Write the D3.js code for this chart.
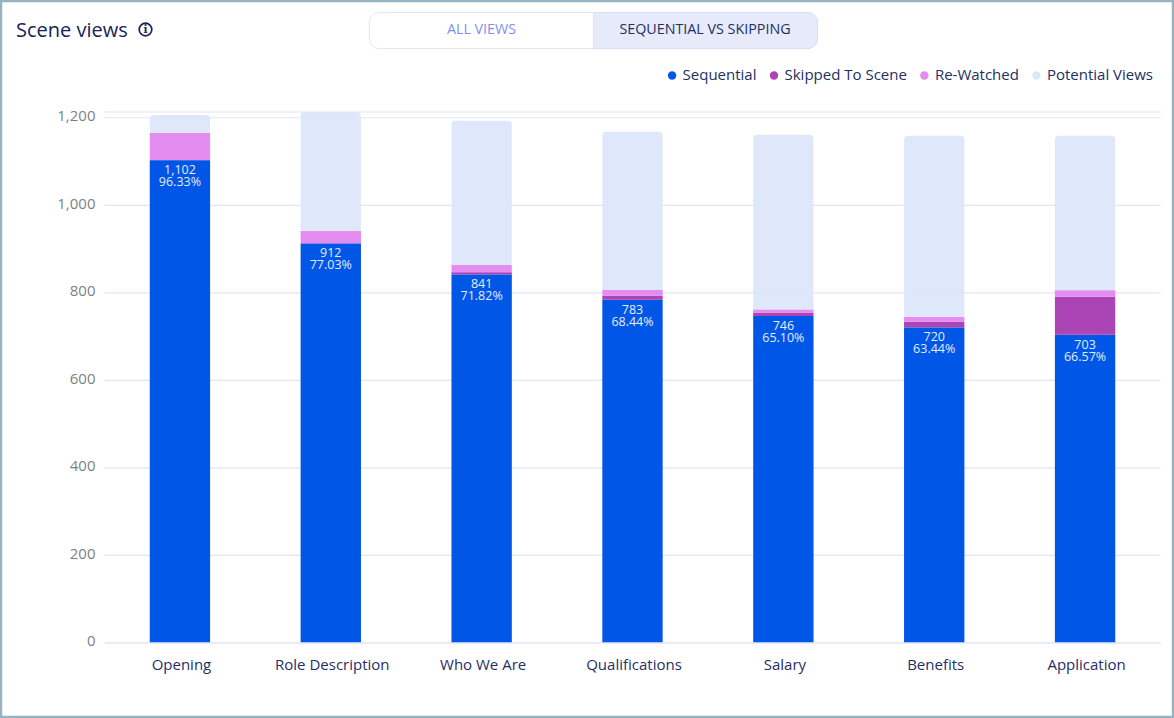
<!DOCTYPE html>
<html>
<head>
<meta charset="utf-8">
<script src="https://cdn.jsdelivr.net/npm/d3@7"></script>
<style>
  html, body { margin: 0; padding: 0; background: #fff; }
  svg { display: block; font-family: "Open Sans", sans-serif; }
  .y-axis text { fill: #7d7f86; font-size: 15px; font-family: "Open Sans", sans-serif; }
  .x-axis text { fill: #1f2f66; font-size: 15px; font-family: "Open Sans", sans-serif; }
</style>
</head>
<body>
<svg id="chart" width="1174" height="718"></svg>
<script>
// chart values
const scenes = ["Opening", "Role Description", "Who We Are", "Qualifications", "Salary", "Benefits", "Application"];
const sequential = [1102, 912, 841, 783, 746, 720, 703];
const skipped = [0, 0, 5, 9, 7, 13, 87];
const rewatched = [62, 28, 17, 14, 8, 11, 15];
const potential = [41, 272, 329, 361, 399, 414, 353];
const percents = ["96.33%", "77.03%", "71.82%", "68.44%", "65.10%", "63.44%", "66.57%"];
const yTicks = [0, 200, 400, 600, 800, 1000, 1200];
const seriesNames = ["Sequential", "Skipped To Scene", "Re-Watched", "Potential Views"];
const seriesValues = [sequential, skipped, rewatched, potential];
const seriesColors = ["#0056e6", "#ab44b5", "#e48cf0", "#dce6fa"];
const toggleLabels = ["ALL VIEWS", "SEQUENTIAL VS SKIPPING"];

const svg = d3.select("#chart");
const margin = {left: 104.5, right: 13.5, top: 112, bottom: 75.5};
const width = 1174, height = 718;

const x = d3.scaleBand()
    .domain(scenes)
    .range([margin.left, width - margin.right])
    .paddingInner(0.6)
    .paddingOuter(0.3);

const y = d3.scaleLinear()
    .domain([0, 1212])
    .range([height - margin.bottom, margin.top]);

// stack the series by hand-named keys
const table = scenes.map((s, i) => {
    const row = {scene: s};
    seriesNames.forEach((n, j) => row[n] = seriesValues[j][i]);
    return row;
});
const stacked = d3.stack().keys(seriesNames)(table);
const color = d3.scaleOrdinal().domain(seriesNames).range(seriesColors);

// outer frame
svg.append("rect")
    .attr("x", 1).attr("y", 1)
    .attr("width", width - 2).attr("height", height - 2)
    .attr("fill", "#fff")
    .attr("stroke", "#97b2c0")
    .attr("stroke-width", 2.5);

// title
svg.append("text")
    .attr("x", 16).attr("y", 36.5)
    .attr("fill", "#15235a")
    .attr("font-size", 20)
    .text("Scene views");

// info icon
const info = svg.append("g").attr("transform", "translate(145.5,29.5)");
info.append("circle").attr("r", 6.3).attr("fill", "none").attr("stroke", "#15235a").attr("stroke-width", 1.7);
info.append("text")
    .attr("text-anchor", "middle").attr("y", 3.8)
    .attr("font-size", 10.5).attr("font-weight", 700)
    .attr("font-family", "'DejaVu Serif', serif")
    .attr("fill", "#15235a")
    .text("i");

// toggle
const toggle = svg.append("g");
toggle.append("path")
    .attr("d", "M593,12.5H808a9.5,9.5 0 0 1 9.5,9.5V39a9.5,9.5 0 0 1 -9.5,9.5H593Z")
    .attr("fill", "#e6eafb").attr("stroke", "#d5dff8");
toggle.append("path")
    .attr("d", "M593,12.5H379a9.5,9.5 0 0 0 -9.5,9.5V39a9.5,9.5 0 0 0 9.5,9.5H593")
    .attr("fill", "#fff").attr("stroke", "#dfe8fb");
toggle.selectAll("text")
    .data(toggleLabels)
    .join("text")
    .attr("x", (d, i) => i === 0 ? 481.5 : 705)
    .attr("y", 33.5)
    .attr("text-anchor", "middle")
    .attr("font-size", 14.3)
    .attr("fill", (d, i) => i === 0 ? "#7f8ff0" : "#22305f")
    .text(d => d);

// legend, laid out from the right edge
const legend = svg.append("g");
let legendX = 1153;
seriesNames.slice().reverse().forEach(name => {
    const label = legend.append("text")
        .attr("y", 80)
        .attr("font-size", 15)
        .attr("fill", "#22305f")
        .text(name);
    const w = label.node().getComputedTextLength();
    label.attr("x", legendX - w);
    legend.append("circle")
        .attr("cx", legendX - w - 10.5)
        .attr("cy", 75.5)
        .attr("r", 4.2)
        .attr("fill", color(name));
    legendX -= w + 28;
});

// grid and y axis
const yAxis = svg.append("g")
    .attr("class", "y-axis")
    .attr("transform", `translate(${margin.left},0)`)
    .call(d3.axisLeft(y).tickValues(yTicks).tickSize(-(width - margin.left - margin.right)).tickPadding(9).tickFormat(d3.format(",")));
yAxis.select(".domain").remove();
yAxis.selectAll("line").attr("stroke", "#dfe5f9").attr("stroke-width", 1.2);
yAxis.selectAll("text").attr("dy", "0.22em");

// top edge of the plot area
svg.append("line")
    .attr("x1", margin.left).attr("x2", width - margin.right)
    .attr("y1", y(1212)).attr("y2", y(1212))
    .attr("stroke", "#dfe5f9").attr("stroke-width", 1.2);

// bars
const layers = svg.selectAll(".layer")
    .data(stacked)
    .join("g")
    .attr("class", "layer")
    .attr("fill", d => color(d.key));

layers.filter(d => d.key !== "Potential Views")
    .selectAll("rect")
    .data(d => d)
    .join("rect")
    .attr("x", d => x(d.data.scene))
    .attr("y", d => y(d[1]))
    .attr("width", x.bandwidth())
    .attr("height", d => y(d[0]) - y(d[1]));

// the potential part has small rounded top corners and lets the grid show through
layers.filter(d => d.key === "Potential Views")
    .selectAll("path")
    .data(d => d)
    .join("path")
    .attr("fill-opacity", 0.92)
    .attr("d", d => {
        const x0 = x(d.data.scene), w = x.bandwidth(), r = 4;
        return `M${x0},${y(d[0])}V${y(d[1]) + r}Q${x0},${y(d[1])} ${x0 + r},${y(d[1])}` +
            `H${x0 + w - r}Q${x0 + w},${y(d[1])} ${x0 + w},${y(d[1]) + r}V${y(d[0])}Z`;
    });

// x axis
const xAxis = svg.append("g")
    .attr("class", "x-axis")
    .attr("transform", `translate(0,${y(0)})`)
    .call(d3.axisBottom(x).tickSize(0).tickPadding(17));
xAxis.select(".domain").attr("stroke", "#dfe3f7").attr("stroke-width", 1.2);
xAxis.selectAll("text").attr("dx", 1.5);

// value labels inside the blue bars
const labels = svg.selectAll(".bar-label")
    .data(scenes)
    .join("text")
    .attr("class", "bar-label")
    .attr("text-anchor", "middle")
    .attr("fill", "#e6ecfb")
    .attr("font-size", 12.5);
labels.append("tspan")
    .attr("x", d => x(d) + x.bandwidth() / 2)
    .attr("y", (d, i) => y(sequential[i]) + 14)
    .text((d, i) => d3.format(",")(sequential[i]));
labels.append("tspan")
    .attr("x", d => x(d) + x.bandwidth() / 2)
    .attr("y", (d, i) => y(sequential[i]) + 26)
    .text((d, i) => percents[i]);
</script>
</body>
</html>
